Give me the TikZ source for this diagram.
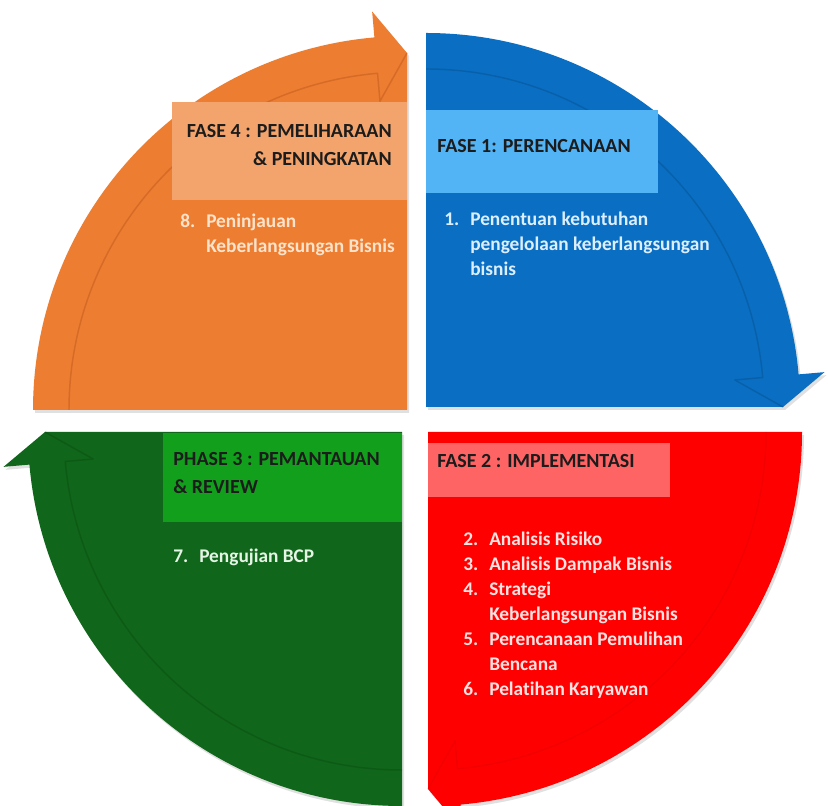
\documentclass[tikz,border=0pt]{standalone}
\usepackage{fontspec}
\setmainfont{Carlito}[Ligatures=NoCommon]
\usetikzlibrary{fit}

\definecolor{orangeq}{HTML}{ED7D31}
\definecolor{orangebox}{HTML}{F3A46C}
\definecolor{orangeline}{HTML}{B8561A}
\definecolor{orangetxt}{HTML}{FDE3CB}
\definecolor{blueq}{HTML}{0A6FC2}
\definecolor{bluebox}{HTML}{52B4F4}
\definecolor{blueline}{HTML}{064E8E}
\definecolor{bluetxt}{HTML}{DDEFFF}
\definecolor{redq}{HTML}{FF0000}
\definecolor{redbox}{HTML}{FF6464}
\definecolor{redline}{HTML}{C00000}
\definecolor{redtxt}{HTML}{FFE2E2}
\definecolor{greenq}{HTML}{10661A}
\definecolor{greenbox}{HTML}{12A01C}
\definecolor{greenline}{HTML}{073F0E}
\definecolor{greentxt}{HTML}{E6F4E6}
\definecolor{labeltxt}{HTML}{1C1C1C}

% #1 centre, #2 start angle, #3 angle of the arrow head base, #4 tip angle, #5 fill colour
\newcommand{\phasearrow}[5]{%
  \begin{scope}[shift={(#1)}]
    \fill[black, opacity=0.12, shift={(2,-3)}]
      (0,0) -- (#2:280.5pt) arc[start angle=#2, end angle=#3, radius=280.5pt]
      -- (#3:300pt) -- (#4:267.75pt) -- cycle;
    \fill[#5]
      (0,0) -- (#2:280.5pt) arc[start angle=#2, end angle=#3, radius=280.5pt]
      -- (#3:300pt) -- (#4:267.75pt) -- cycle;
  \end{scope}}
% inner edge of the curved arrow shaft and head
\newcommand{\shaftseam}[6]{%
  \begin{scope}[shift={(#1)}]
    \draw[seam, #5, opacity=#6] (#2:253.5pt) arc[start angle=#2, end angle=#3, radius=253.5pt]
      -- (#3:232.5pt) -- (#4:267.75pt);
  \end{scope}}

\tikzset{
  x=0.75pt, y=0.75pt,
  seam/.style={line width=1.1pt, line join=round},
  labeltext/.style={inner sep=0pt, text=labeltxt,
    font=\fontsize{15}{21}\selectfont\bfseries},
  itemtext/.style={inner sep=0pt,
    font=\fontsize{14.5}{18.75}\selectfont\bfseries},
  boxfit/.style={inner sep=0pt, draw=none},
}

\begin{document}
\begin{tikzpicture}
  \fill[white] (0,0) rectangle (828,806);
  \useasboundingbox (0,0) rectangle (828,806);

  \coordinate (c4) at (407,396);
  \coordinate (c1) at (426,399);
  \coordinate (c2) at (428,374);
  \coordinate (c3) at (402,374);

  \begin{scope}
    \clip (0,0) rectangle (828,806);
    % quarter-circle arrows, clockwise cycle
    \phasearrow{c4}{180}{95}{90}{orangeq}
    \phasearrow{c1}{90}{5}{0}{blueq}
    \phasearrow{c2}{0}{-85}{-90}{redq}
    \phasearrow{c3}{-90}{-175}{-180}{greenq}
    \shaftseam{c4}{180}{95}{90}{orangeline}{0.45}
    \shaftseam{c1}{90}{5}{0}{blueline}{0.45}
    \shaftseam{c2}{0}{-85}{-90}{redline}{0.18}
    \shaftseam{c3}{-90}{-175}{-180}{greenline}{0.3}
  \end{scope}

  % heading boxes
  \node[boxfit, fill=orangebox, fit={(172,606) (407,704)}] (box4) {};
  \node[boxfit, fill=bluebox,   fit={(426,613) (658,696)}] (box1) {};
  \node[boxfit, fill=redbox,    fit={(428,309) (670,363)}] (box2) {};
  \node[boxfit, fill=greenbox,  fit={(163,284) (402,373)}] (box3) {};

  % headings
  \node[labeltext, anchor=base east] (lab4) at (392,668)
    {\begin{tabular}[t]{@{}r@{}}FASE 4 : PEMELIHARAAN\\ \& PENINGKATAN\end{tabular}};
  \node[labeltext, anchor=base west] (lab1) at (437,653) {FASE 1: PERENCANAAN};
  \node[labeltext, anchor=base west] (lab2) at (437,338) {FASE 2 : IMPLEMENTASI};
  \node[labeltext, anchor=base west] (lab3) at (173,340)
    {\begin{tabular}[t]{@{}l@{}}PHASE 3 : PEMANTAUAN\\ \& REVIEW\end{tabular}};

  % steps
  \node[itemtext, text=orangetxt, anchor=base west] (step4) at (180,578)
    {\begin{tabular}[t]{@{}p{19.5pt}@{}l@{}}
      8. & Peninjauan\\
         & Keberlangsungan Bisnis
    \end{tabular}};
  \node[itemtext, text=bluetxt, anchor=base west] (step1) at (444,580)
    {\begin{tabular}[t]{@{}p{19.5pt}@{}l@{}}
      1. & Penentuan kebutuhan\\
         & pengelolaan keberlangsungan\\
         & bisnis
    \end{tabular}};
  \node[itemtext, text=redtxt, anchor=base west] (step2) at (463,260)
    {\begin{tabular}[t]{@{}p{19.5pt}@{}l@{}}
      2. & Analisis Risiko\\
      3. & Analisis Dampak Bisnis\\
      4. & Strategi\\
         & Keberlangsungan Bisnis\\
      5. & Perencanaan Pemulihan\\
         & Bencana\\
      6. & Pelatihan Karyawan
    \end{tabular}};
  \node[itemtext, text=greentxt, anchor=base west] (step3) at (173,243)
    {\begin{tabular}[t]{@{}p{19.5pt}@{}l@{}}
      7. & Pengujian BCP
    \end{tabular}};
\end{tikzpicture}
\end{document}
